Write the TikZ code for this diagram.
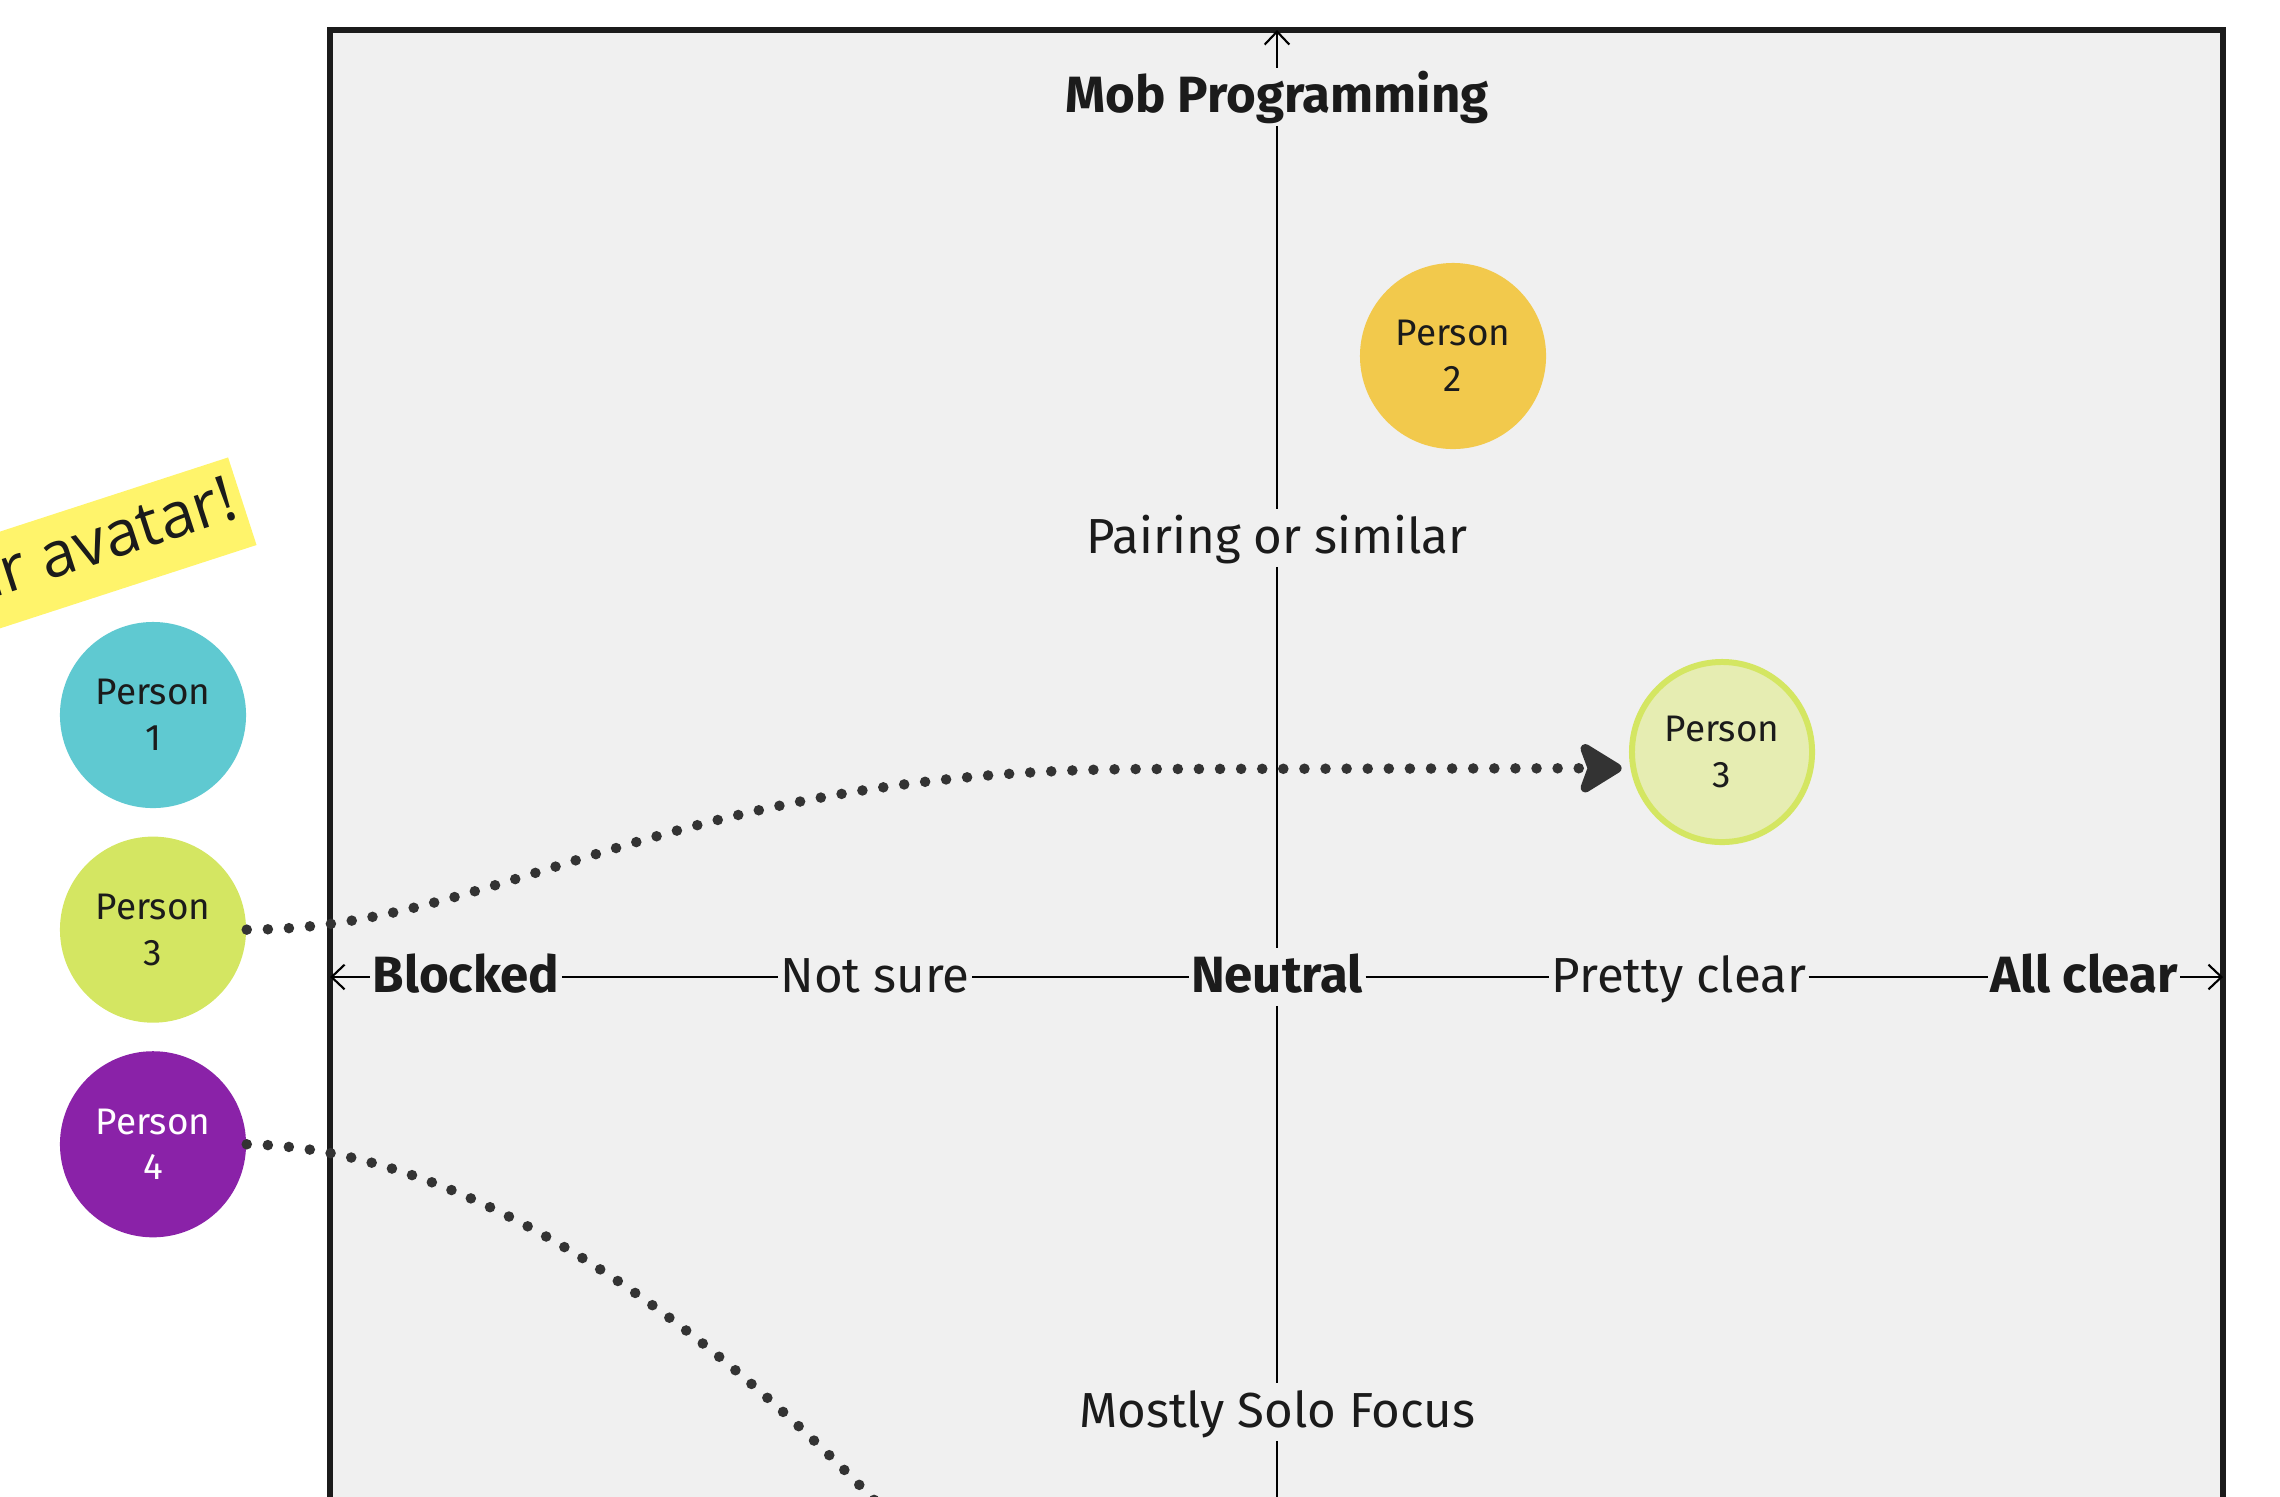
\documentclass[tikz,border=0pt]{standalone}
\usepackage{fontspec}
\setmainfont{Fira Sans}
\newfontfamily\stickyfont{Open Sans}
\usepackage{xcolor}
\usepackage{tikz}
\usetikzlibrary{shapes,arrows,arrows.meta,positioning}

\definecolor{canvas}{HTML}{F0F0F0}
\definecolor{ink}{HTML}{1B1B1B}
\definecolor{dotgray}{HTML}{333333}
\definecolor{tealp}{HTML}{5FC9D1}
\definecolor{goldp}{HTML}{F2C94C}
\definecolor{limep}{HTML}{D4E662}
\definecolor{limelight}{HTML}{E6EDB2}
\definecolor{purplep}{HTML}{8A22A8}
\definecolor{stickyyellow}{HTML}{FFF46B}

\tikzstyle{person} = [circle, minimum size=1.86cm, inner sep=0pt, align=center, text=ink, font=\fontsize{10.5pt}{13pt}\selectfont]
\tikzstyle{axislabel} = [fill=canvas, text=ink, inner xsep=0.5pt, inner ysep=3pt, text height=0.95em, text depth=0.05em, font=\fontsize{14pt}{16pt}\selectfont]
\tikzstyle{axisbold} = [axislabel, font=\fontsize{14.5pt}{16pt}\selectfont\bfseries]
\tikzstyle{axis} = [line width=0.6pt, black, >={Straight Barb[length=3.7pt,width=7pt]}]
\tikzstyle{trail} = [dotgray, line width=3pt, line cap=round, dash pattern=on 0pt off 6pt]
\tikzstyle{sticky} = [fill=stickyyellow, text=ink, minimum height=0.92cm, inner xsep=2pt, inner ysep=0pt, font=\stickyfont\fontsize{18pt}{20pt}\selectfont]

\begin{document}
\begin{tikzpicture}[x=0.01cm, y=-0.01cm, node distance=2.145cm]
    \useasboundingbox (0,0) rectangle (2280,1496);
    \clip (0,0) rectangle (2280,1496);

    % Board
    \draw [ink, line width=1.7pt, fill=canvas] (330,30) rectangle (2223,1620);
    \coordinate (hstart) at (330,977);
    \coordinate (hend) at (2223,977);
    \coordinate (vstart) at (1277,30);
    \coordinate (vend) at (1277,1620);

    % Axis labels
    \node [axisbold] (mob) at (1277,97) {Mob Programming};
    \node [axislabel] (pairing) at (1277,538) {Pairing or similar};
    \node [axislabel] (solo) at (1277,1412) {Mostly Solo Focus};
    \node [axisbold] (blocked) at (466,977) {Blocked};
    \node [axislabel] (notsure) at (875,977) {Not sure};
    \node [axisbold] (neutral) at (1277,977) {Neutral};
    \node [axislabel] (prettyclear) at (1679,977) {Pretty clear};
    \node [axisbold] (allclear) at (2084,977) {All clear};

    % Axes
    \draw [axis, <-] (hstart) -- (blocked);
    \draw [axis] (blocked) -- (notsure) -- (neutral) -- (prettyclear) -- (allclear);
    \draw [axis, ->] (allclear) -- (hend);
    \draw [axis, <-] (vstart) -- (mob);
    \draw [axis] (mob) -- (pairing) -- (neutral) -- (solo) -- (vend);

    % Hint
    \node [sticky, anchor=east, rotate=18] (hint) at (243,501) {your avatar!};

    % Avatars
    \node [person, fill=tealp] (person1) at (153,715) {Person\\1};
    \node [person, fill=limep, below of=person1] (person3) {Person\\3};
    \node [person, fill=purplep, text=white, below of=person3] (person4) {Person\\4};
    \node [person, fill=goldp] (person2) at (1453,356) {Person\\2};
    \node [person, fill=limelight, draw=limep, line width=1.7pt, minimum size=1.8cm] (person3moved) at (1722,752) {Person\\3};

    % Moves
    \coordinate (bend) at (1150,769);
    \coordinate (offpage) at (880,1506);
    \draw [trail, -{Stealth[length=14pt, width=17pt, inset=3pt, round]}, shorten >=2.5pt]
        (person3.east) .. controls +(253,0) and +(-484,0) .. (bend) -- (person3moved.190);
    \draw [trail] (person4.east) .. controls +(191,3) and +(-224,-232) .. (offpage);
\end{tikzpicture}
\end{document}
